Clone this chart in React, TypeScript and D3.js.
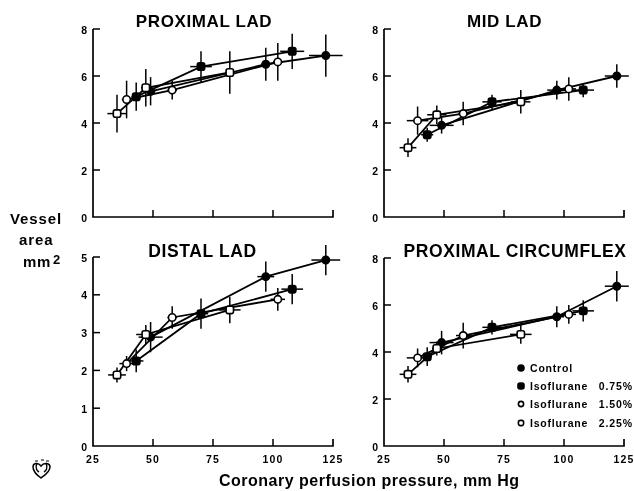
import React from "react";
import * as d3 from "d3";

const WIDTH = 634;
const HEIGHT = 491;

const seriesNames = ["Control", "Isoflurane  0.75%", "Isoflurane  1.50%", "Isoflurane  2.25%"];
const seriesFilled = [true, true, false, false];
const seriesSquare = [false, true, false, true];
const xTicks = [25, 50, 75, 100, 125];

// Pressures per series: Control, 0.75%, 1.50%, 2.25%
const pressure = [
  [49, 97, 122],
  [43, 70, 108],
  [39, 58, 102],
  [35, 47, 82],
];

const proxLadArea = [[5.35, 6.5, 6.87], [5.12, 6.4, 7.05], [5.0, 5.4, 6.6], [4.4, 5.5, 6.15]];
const proxLadYErr = [[0.6, 0.7, 0.9], [0.6, 0.65, 0.75], [0.8, 0.4, 0.8], [0.8, 0.8, 0.9]];
const proxLadXErr = [[2, 2, 7], [2, 4.5, 5], [2, 2, 2], [4, 2, 2]];

const midLadArea = [[3.9, 5.4, 6.0], [3.5, 4.9, 5.4], [4.1, 4.4, 5.45], [2.95, 4.35, 4.9]];
const midLadYErr = [[0.35, 0.4, 0.5], [0.3, 0.3, 0.3], [0.6, 0.5, 0.5], [0.4, 0.4, 0.5]];
const midLadXErr = [[5, 4, 5], [2.5, 4, 4.5], [4.5, 2, 3], [3.5, 4, 4]];

const distalArea = [[2.88, 4.48, 4.92], [2.25, 3.5, 4.15], [2.18, 3.4, 3.88], [1.88, 2.95, 3.6]];
const distalYErr = [[0.4, 0.4, 0.4], [0.3, 0.4, 0.4], [0.2, 0.3, 0.3], [0.2, 0.25, 0.35]];
const distalXErr = [[5, 3.5, 6], [3, 3, 4.5], [3, 2, 3], [3.7, 4, 4.5]];

const circArea = [[4.4, 5.5, 6.8], [3.8, 5.05, 5.75], [3.75, 4.7, 5.6], [3.05, 4.15, 4.75]];
const circYErr = [[0.5, 0.45, 0.65], [0.4, 0.3, 0.45], [0.4, 0.55, 0.4], [0.35, 0.3, 0.4]];
const circXErr = [[5, 3, 5], [2, 4, 4.5], [4.5, 3, 3], [3.5, 2, 4.5]];

const panels = [
  { title: "PROXIMAL LAD", titleX: 204, titleY: 27, titleSize: 17, x0: 93, x1: 333, yTop: 29, yBottom: 217, yMax: 8, yTicks: [0, 2, 4, 6, 8], area: proxLadArea, yErr: proxLadYErr, xErr: proxLadXErr, xLabels: false },
  { title: "MID LAD", titleX: 504.5, titleY: 27, titleSize: 17, x0: 384, x1: 624, yTop: 29, yBottom: 217, yMax: 8, yTicks: [0, 2, 4, 6, 8], area: midLadArea, yErr: midLadYErr, xErr: midLadXErr, xLabels: false },
  { title: "DISTAL LAD", titleX: 202.5, titleY: 257, titleSize: 17.5, x0: 93, x1: 333, yTop: 257, yBottom: 446, yMax: 5, yTicks: [0, 1, 2, 3, 4, 5], area: distalArea, yErr: distalYErr, xErr: distalXErr, xLabels: true },
  { title: "PROXIMAL CIRCUMFLEX", titleX: 515, titleY: 257, titleSize: 17.5, x0: 384, x1: 624, yTop: 258, yBottom: 446, yMax: 8, yTicks: [0, 2, 4, 6, 8], area: circArea, yErr: circYErr, xErr: circXErr, xLabels: true },
];

const FONT = "'Liberation Sans', Arial, sans-serif";
const INK = "#000";

function Marker({ cx, cy, s, size = 3.7 }: { cx: number; cy: number; s: number; size?: number }) {
  const fill = seriesFilled[s] ? INK : "#fff";
  if (seriesSquare[s]) {
    return <rect x={cx - size} y={cy - size} width={size * 2} height={size * 2} rx={2} fill={fill} stroke={INK} strokeWidth={1.6} />;
  }
  return <circle cx={cx} cy={cy} r={size} fill={fill} stroke={INK} strokeWidth={1.6} />;
}

function Panel({ p }: { p: (typeof panels)[number] }) {
  const x = d3.scaleLinear().domain([25, 125]).range([p.x0, p.x1]);
  const y = d3.scaleLinear().domain([0, p.yMax]).range([p.yBottom, p.yTop]);
  return (
    <g>
      <text x={p.titleX} y={p.titleY} textAnchor="middle" fontFamily={FONT} fontSize={p.titleSize} fontWeight={700} letterSpacing={0.6} fill={INK}>{p.title}</text>
      <path d={`M${p.x0},${p.yTop}V${p.yBottom}H${p.x1}V${p.yBottom - 7}`} fill="none" stroke={INK} strokeWidth={1.7} />
      {p.yTicks.map((t) => (
        <g key={t}>
          {t > 0 && <line x1={p.x0} x2={p.x0 + 7} y1={y(t)} y2={y(t)} stroke={INK} strokeWidth={1.5} />}
          <text x={p.x0 - 6} y={y(t) + 4.5} textAnchor="end" fontFamily={FONT} fontSize={10.5} fontWeight={700} fill={INK}>{t}</text>
        </g>
      ))}
      {xTicks.slice(1, 4).map((t) => (
        <line key={t} x1={x(t)} x2={x(t)} y1={p.yBottom} y2={p.yBottom - 7} stroke={INK} strokeWidth={1.5} />
      ))}
      {p.xLabels && xTicks.map((t) => (
        <text key={t} x={x(t)} y={p.yBottom + 17} textAnchor="middle" fontFamily={FONT} fontSize={10.5} fontWeight={700} letterSpacing={1.2} fill={INK}>{t}</text>
      ))}
      {pressure.map((xs, s) => {
        const pts = xs.map((v, i) => [x(v), y(p.area[s][i])] as [number, number]);
        return <path key={s} d={d3.line()(pts) ?? ""} fill="none" stroke={INK} strokeWidth={1.8} />;
      })}
      {pressure.map((xs, s) =>
        xs.map((v, i) => {
          const a = p.area[s][i];
          const ye = p.yErr[s][i];
          const xe = p.xErr[s][i];
          return (
            <g key={`${s}-${i}`}>
              <line x1={x(v)} x2={x(v)} y1={y(a - ye)} y2={y(a + ye)} stroke={INK} strokeWidth={1.5} />
              <line x1={x(v - xe)} x2={x(v + xe)} y1={y(a)} y2={y(a)} stroke={INK} strokeWidth={1.5} />
            </g>
          );
        })
      )}
      {pressure.map((xs, s) =>
        xs.map((v, i) => <Marker key={`${s}-${i}`} cx={x(v)} cy={y(p.area[s][i])} s={s} />)
      )}
    </g>
  );
}

const legendY = [368, 386, 404, 423];

export default function App() {
  return (
    <svg width={WIDTH} height={HEIGHT} viewBox={`0 0 ${WIDTH} ${HEIGHT}`} style={{ position: "absolute", left: 0, top: 0, background: "#fff", filter: "blur(0.35px)" }}>
      {panels.map((p) => <Panel key={p.title} p={p} />)}

      <text x={10} y={224} fontFamily={FONT} fontSize={15} fontWeight={700} letterSpacing={0.9} fill={INK}>Vessel</text>
      <text x={19} y={245} fontFamily={FONT} fontSize={15} fontWeight={700} letterSpacing={0.9} fill={INK}>area</text>
      <text x={23} y={267} fontFamily={FONT} fontSize={15} fontWeight={700} letterSpacing={0.6} fill={INK}>mm</text>
      <text x={53} y={264} fontFamily={FONT} fontSize={13} fontWeight={700} fill={INK}>2</text>

      <text x={219} y={486} fontFamily={FONT} fontSize={16} fontWeight={700} letterSpacing={0.5} fill={INK}>Coronary perfusion pressure, mm Hg</text>

      {seriesNames.map((n, s) => {
        const [label, pct] = n.split("  ");
        return (
          <g key={n}>
            <Marker cx={521} cy={legendY[s]} s={s} size={s < 2 ? 3 : 2.6} />
            <text x={530} y={legendY[s] + 3.5} fontFamily={FONT} fontSize={10.5} fontWeight={700} letterSpacing={0.8} fill={INK}>{label}</text>
            {pct && <text x={633} y={legendY[s] + 3.5} textAnchor="end" fontFamily={FONT} fontSize={10.5} fontWeight={700} letterSpacing={0.9} fill={INK}>{pct}</text>}
          </g>
        );
      })}

      <g fill="none" stroke={INK} strokeWidth={1.5}>
        <path d="M41,478 C37,475 33,472 33,467 C33,463 38,462 41,466 C44,462 50,463 50,467 C50,472 45,475 41,478 Z" />
        <path d="M37,463 C35,468 37,471 39,472 M46,463 C48,468 46,471 44,472" />
        <path d="M35,461H38M41,460H44M46,461H49" strokeWidth={1.2} />
      </g>
    </svg>
  );
}
